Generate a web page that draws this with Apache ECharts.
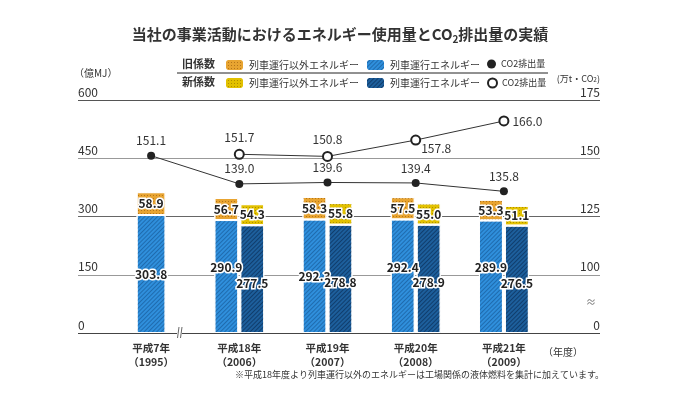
<!DOCTYPE html>
<html>
<head>
<meta charset="utf-8">
<script src="https://cdn.jsdelivr.net/npm/echarts@6/dist/echarts.min.js"></script>
<style>
  html, body { margin: 0; background: #fff; }
  #main { width: 680px; height: 400px; }
</style>
</head>
<body>
<div id="main"></div>
<script>
// 年度
var years = ['平成7年\n（1995）', '平成18年\n（2006）', '平成19年\n（2007）', '平成20年\n（2008）', '平成21年\n（2009）'];
// 旧係数 (億MJ)
var oldRail  = [303.8, 290.9, 292.3, 292.4, 289.9];
var oldOther = [58.9, 56.7, 58.3, 57.5, 53.3];
// 新係数 (億MJ)
var newRail  = [null, 277.5, 278.8, 278.9, 276.5];
var newOther = [null, 54.3, 55.8, 55.0, 51.1];
// CO2排出量 (万t-CO2)
var oldCO2 = [151.1, 139.0, 139.6, 139.4, 135.8];
var newCO2 = [null, 151.7, 150.8, 157.8, 166.0];

var FONT = "'Noto Sans CJK JP', 'Noto Sans', sans-serif";
var chart = echarts.init(document.getElementById('main'));

var stripe = function (c) {
    return { symbol: 'rect', symbolSize: 1, dashArrayX: [1, 0], dashArrayY: [1, 2], rotation: -Math.PI / 4, color: c };
};
var dots = function (c) {
    return { symbol: 'rect', symbolSize: 1, dashArrayX: [1, 2], dashArrayY: [1, 2], color: c };
};

var fmt1 = function (p) { return p.value == null ? '' : Number(p.value).toFixed(1); };

var barLabel = {
    show: true, position: 'inside', fontSize: 12, fontWeight: 'bold', color: '#222',
    textBorderColor: '#fff', textBorderWidth: 3, fontFamily: FONT, formatter: fmt1
};

// 1995 has only the old figures, drawn centred on its own axis
var only95 = function (arr) { return arr.map(function (v, i) { return i === 0 ? v : null; }); };
var from06 = function (arr) { return arr.map(function (v, i) { return i === 0 ? null : v; }); };

var oldRailOffsetY = [0, -9, 0, -9, -9];

var c = {
    oldRail: '#2f8fdc', oldOther: '#e8a431', newRail: '#1d5f9c', newOther: '#e2c100'
};

var strip = function (name) { return name.split('|')[1]; };

var option = {
    animation: false,
    textStyle: { fontFamily: FONT },
    title: {
        text: '{a|当社の事業活動におけるエネルギー使用量とCO}{s|2}{a|排出量の実績}',
        left: 'center', top: 22,
        textStyle: {
            rich: {
                a: { fontSize: 15, fontWeight: 'bold', color: '#333', fontFamily: FONT },
                s: { fontSize: 10, fontWeight: 'bold', color: '#333', fontFamily: FONT, verticalAlign: 'bottom', padding: [0, 0, -2, 0] }
            }
        }
    },
    legend: [
        {
            data: ['旧|列車運行以外エネルギー', '旧|列車運行エネルギー'],
            left: 224, top: 58, padding: 0, itemWidth: 19, itemHeight: 12, itemGap: 6,
            formatter: strip, selectedMode: false,
            textStyle: { fontSize: 10, color: '#333', fontFamily: FONT }
        },
        {
            data: [{ name: '旧|CO2排出量', icon: 'circle' }],
            left: 487, top: 59.5, padding: 0, itemWidth: 9, itemHeight: 9,
            formatter: strip, selectedMode: false,
            textStyle: { fontSize: 9, color: '#333', fontFamily: FONT }
        },
        {
            data: ['新|列車運行以外エネルギー', '新|列車運行エネルギー'],
            left: 224, top: 76, padding: 0, itemWidth: 19, itemHeight: 12, itemGap: 6,
            formatter: strip, selectedMode: false,
            textStyle: { fontSize: 10, color: '#333', fontFamily: FONT }
        },
        {
            data: [{ name: '新|CO2排出量', icon: 'circle', itemStyle: { color: '#fff', borderColor: '#222', borderWidth: 2 } }],
            left: 487, top: 77.5, padding: 0, itemWidth: 9, itemHeight: 9,
            formatter: strip, selectedMode: false,
            textStyle: { fontSize: 9, color: '#333', fontFamily: FONT }
        }
    ],
    grid: [
        { left: 78, right: 80, top: 100, bottom: 67 },
        { left: 107, right: 132, top: 100, bottom: 67 }
    ],
    xAxis: [
        { gridIndex: 0, type: 'value', show: false, min: 0, max: 1 },
        {
            gridIndex: 1, type: 'category', data: years,
            axisLine: { show: false }, axisTick: { show: false },
            axisLabel: { fontSize: 10.5, fontWeight: 'bold', color: '#333', lineHeight: 14, margin: 8, fontFamily: FONT }
        },
        { gridIndex: 1, type: 'category', data: years, show: false }
    ],
    yAxis: [
        {
            gridIndex: 0, type: 'value', min: 0, max: 600, interval: 150, position: 'left',
            name: '（億MJ）', nameLocation: 'end', nameGap: 22,
            nameTextStyle: { align: 'left', fontSize: 10, color: '#333', padding: [0, 0, 0, -4] },
            axisLine: { show: false }, axisTick: { show: false },
            axisLabel: { inside: true, margin: 0, verticalAlign: 'bottom', align: 'left', fontSize: 12, color: '#333', padding: [0, 0, 2, 0] },
            splitLine: { lineStyle: { color: ['#444', '#999', '#666', '#999', '#555'], width: 1 } }
        },
        {
            gridIndex: 0, type: 'value', min: 75, max: 175, interval: 25, position: 'right',
            name: '{a|(万t・CO}{s|2}{a|)}', nameLocation: 'end', nameGap: 17,
            nameTextStyle: {
                align: 'right',
                rich: {
                    a: { fontSize: 9, color: '#333', fontFamily: FONT },
                    s: { fontSize: 6.5, color: '#333', fontFamily: FONT, verticalAlign: 'bottom' }
                }
            },
            axisLine: { show: false }, axisTick: { show: false }, splitLine: { show: false },
            axisLabel: {
                inside: true, margin: 0, verticalAlign: 'bottom', align: 'right', fontSize: 12, color: '#333', padding: [0, 0, 2, 0],
                formatter: function (v) { return v === 75 ? '0' : v; }
            }
        },
        { gridIndex: 1, type: 'value', min: 0, max: 600, interval: 150, show: false },
        { gridIndex: 1, type: 'value', min: 75, max: 175, interval: 25, show: false, position: 'right' }
    ],
    series: [
        {
            name: '旧|列車運行エネルギー', type: 'bar', xAxisIndex: 2, yAxisIndex: 2, stack: 'y95', barWidth: 29,
            data: only95(oldRail),
            itemStyle: { color: c.oldRail, borderColor: '#fff', borderWidth: 1, decal: stripe('rgba(0,40,90,0.35)') },
            label: barLabel
        },
        {
            name: '旧|列車運行以外エネルギー', type: 'bar', xAxisIndex: 2, yAxisIndex: 2, stack: 'y95', barWidth: 29,
            data: only95(oldOther),
            itemStyle: { color: c.oldOther, borderColor: '#fff', borderWidth: 1, decal: dots('rgba(120,60,0,0.45)') },
            label: barLabel
        },
        {
            name: '旧|列車運行エネルギー', type: 'bar', xAxisIndex: 1, yAxisIndex: 2, stack: 'old', barWidth: 24, barGap: '8%',
            data: from06(oldRail).map(function (v, i) {
                return { value: v, label: { offset: [0, oldRailOffsetY[i]] } };
            }),
            itemStyle: { color: c.oldRail, borderColor: '#fff', borderWidth: 1, decal: stripe('rgba(0,40,90,0.35)') },
            label: barLabel
        },
        {
            name: '旧|列車運行以外エネルギー', type: 'bar', xAxisIndex: 1, yAxisIndex: 2, stack: 'old', barWidth: 24,
            data: from06(oldOther),
            itemStyle: { color: c.oldOther, borderColor: '#fff', borderWidth: 1, decal: dots('rgba(120,60,0,0.45)') },
            label: barLabel
        },
        {
            name: '新|列車運行エネルギー', type: 'bar', xAxisIndex: 1, yAxisIndex: 2, stack: 'new', barWidth: 24,
            data: newRail,
            itemStyle: { color: c.newRail, borderColor: '#fff', borderWidth: 1, decal: stripe('rgba(0,20,50,0.45)') },
            label: Object.assign({}, barLabel, { offset: [0, 4] })
        },
        {
            name: '新|列車運行以外エネルギー', type: 'bar', xAxisIndex: 1, yAxisIndex: 2, stack: 'new', barWidth: 24,
            data: newOther,
            itemStyle: { color: c.newOther, borderColor: '#fff', borderWidth: 1, decal: dots('rgba(110,80,0,0.45)') },
            label: barLabel
        },
        {
            name: '旧|CO2排出量', type: 'line', xAxisIndex: 1, yAxisIndex: 3, data: oldCO2,
            symbol: 'circle', symbolSize: 8, z: 5,
            itemStyle: { color: '#222' }, lineStyle: { color: '#333', width: 1 },
            label: { show: true, position: 'top', distance: 5, fontSize: 12, color: '#333', formatter: fmt1 }
        },
        {
            name: '新|CO2排出量', type: 'line', xAxisIndex: 1, yAxisIndex: 3, z: 5,
            data: newCO2.map(function (v, i) {
                if (i === 3) return { value: v, label: { position: 'right', distance: 2, offset: [-2, 8] } };
                if (i === 4) return { value: v, label: { position: 'right', distance: 3 } };
                return v;
            }),
            symbol: 'circle', symbolSize: 9,
            itemStyle: { color: '#fff', borderColor: '#222', borderWidth: 2 }, lineStyle: { color: '#333', width: 1 },
            label: { show: true, position: 'top', distance: 5, fontSize: 12, color: '#333', formatter: fmt1 }
        }
    ],
    graphic: [
        { type: 'text', left: 182, top: 58, style: { text: '旧係数', fill: '#333', font: 'bold 11px ' + FONT } },
        { type: 'text', left: 182, top: 76, style: { text: '新係数', fill: '#333', font: 'bold 11px ' + FONT } },
        { type: 'line', shape: { x1: 177, y1: 73, x2: 548, y2: 73 }, style: { stroke: '#222', lineWidth: 1 } },
        { type: 'text', x: 563, y: 352, style: { text: '（年度）', fill: '#333', font: '10px ' + FONT, align: 'center', verticalAlign: 'middle' } },
        { type: 'text', x: 604, y: 375, style: { text: '※平成18年度より列車運行以外のエネルギーは工場関係の液体燃料を集計に加えています。', fill: '#333', font: '9px ' + FONT, align: 'right', verticalAlign: 'middle' } },
        // axis break marks
        { type: 'rect', shape: { x: 177, y: 330, width: 5, height: 6 }, style: { fill: '#fff' }, z: 100 },
        { type: 'line', shape: { x1: 177.5, y1: 338, x2: 179, y2: 327 }, style: { stroke: '#666', lineWidth: 1 }, z: 101 },
        { type: 'line', shape: { x1: 180.5, y1: 338, x2: 182, y2: 327 }, style: { stroke: '#666', lineWidth: 1 }, z: 101 },
        { type: 'text', x: 591, y: 302, style: { text: '≈', fill: '#777', font: '10px ' + FONT, align: 'center', verticalAlign: 'middle' } }
    ]
};

chart.setOption(option);
</script>
</body>
</html>
